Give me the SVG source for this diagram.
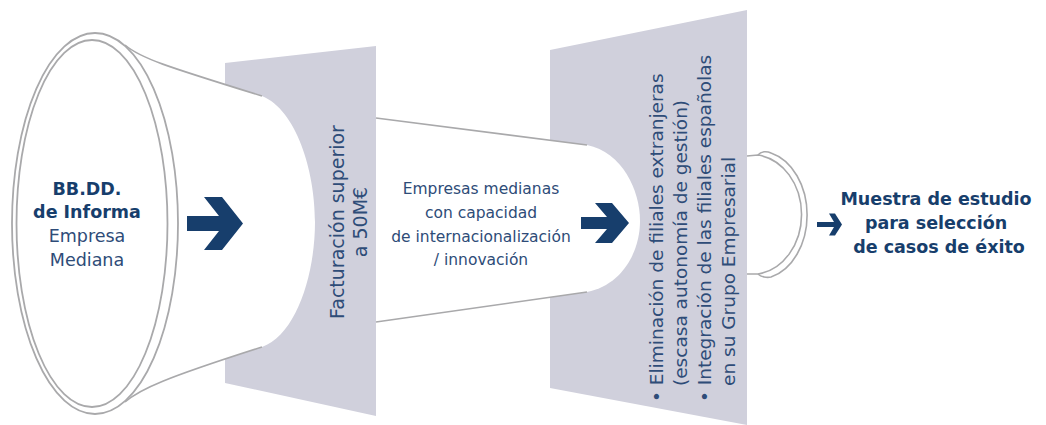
<svg xmlns="http://www.w3.org/2000/svg" width="1046" height="425" viewBox="0 0 1046 425">
<style>
.panel{fill:#d0d0dc}
.white{fill:#ffffff}
.line{fill:none;stroke:#a9a9ab;stroke-width:1.6}
.rim{fill:#ffffff;stroke:#a9a9ab;stroke-width:1.8}
.arrow{fill:#173e6c}
.t{font-family:"DejaVu Sans","Liberation Sans",sans-serif;fill:#2e4c78}
.b{font-family:"DejaVu Sans","Liberation Sans",sans-serif;font-weight:bold;fill:#173e6c}
</style>
<rect width="1046" height="425" fill="#ffffff"/>
<g id="panel1">
<polygon class="panel" points="225,63 376,46 376,416 225,383"/>
</g>
<g id="panel2">
<polygon class="panel" points="550,50 747,10 747,425 550,388"/>
</g>
<g id="funnel1">
<path class="white" d="M95,40 L125,45 C140,58 165,66 262,96 C296,110 315,170 315,222 C315,275 296,335 262,347 C165,378 140,389 125,402 L95,405 Z"/>
<path class="line" d="M125,45 C140,58 165,66 262,96"/>
<path class="line" d="M125,402 C140,389 165,378 262,347"/>
</g>
<g id="funnel2">
<path class="white" d="M376,118 L587,145 C622,152 640,190 640,221 C640,252 622,285 587,292 L376,322 Z"/>
<path class="line" d="M376,118 L587,145"/>
<path class="line" d="M376,322 L587,292"/>
</g>
<g id="source">
<ellipse class="rim" cx="95" cy="223.5" rx="83" ry="190.5"/>
<ellipse class="rim" cx="92" cy="223.5" rx="75.5" ry="183.5"/>
<text class="b" font-size="17.5" text-anchor="middle" x="87" y="195">BB.DD.</text>
<text class="b" font-size="17.5" text-anchor="middle" x="87" y="218">de Informa</text>
<text class="t" font-size="17.5" text-anchor="middle" x="87" y="242">Empresa</text>
<text class="t" font-size="17.5" text-anchor="middle" x="87" y="266">Mediana</text>
</g>
<g id="cup">
<path class="line" d="M747,156 L758,155 A50 60 0 0 1 758,274 L747,274"/>
<path class="line" d="M758,155 C761,151 767,151 771,153 A48 64 0 0 1 771,277 C767,278 761,277 758,274"/>
</g>
<g id="label1">
<text class="t" font-size="19" text-anchor="middle" transform="rotate(-90)" x="-222" y="344">Facturación superior</text>
<text class="t" font-size="19" text-anchor="middle" transform="rotate(-90)" x="-222" y="367">a 50M€</text>
</g>
<g id="label2">
<text class="t" font-size="15.5" text-anchor="middle" x="481" y="194">Empresas medianas</text>
<text class="t" font-size="15.5" text-anchor="middle" x="481" y="218">con capacidad</text>
<text class="t" font-size="15.5" text-anchor="middle" x="481" y="242">de internacionalización</text>
<text class="t" font-size="15.5" text-anchor="middle" x="481" y="265">/ innovación</text>
</g>
<g id="label3">
<text class="t" font-size="18.5" transform="rotate(-90)" x="-402" y="663">• Eliminación de filiales extranjeras</text>
<text class="t" font-size="18.5" transform="rotate(-90)" x="-386" y="687">(escasa autonomía de gestión)</text>
<text class="t" font-size="18.5" transform="rotate(-90)" x="-402" y="711">• Integración de las filiales españolas</text>
<text class="t" font-size="18.5" transform="rotate(-90)" x="-386" y="735">en su Grupo Empresarial</text>
</g>
<g id="result">
<text class="b" font-size="17.5" text-anchor="middle" x="936" y="205">Muestra de estudio</text>
<text class="b" font-size="17.5" text-anchor="middle" x="936" y="229">para selección</text>
<text class="b" font-size="17.5" text-anchor="middle" x="939" y="253">de casos de éxito</text>
</g>
<g id="connectors">
<polygon class="arrow" points="204,197 222,197 243,223.5 222,250 204,250 219,231 187,231 187,216 219,216"/>
<polygon class="arrow" points="595,203 612,203 629,223 612,243 595,243 607,229 581,229 581,217 607,217"/>
<polygon class="arrow" points="829,213.5 835,213.5 842,224.5 835,235.5 829,235.5 834,227 817,227 817,222 834,222"/>
</g>
</svg>
